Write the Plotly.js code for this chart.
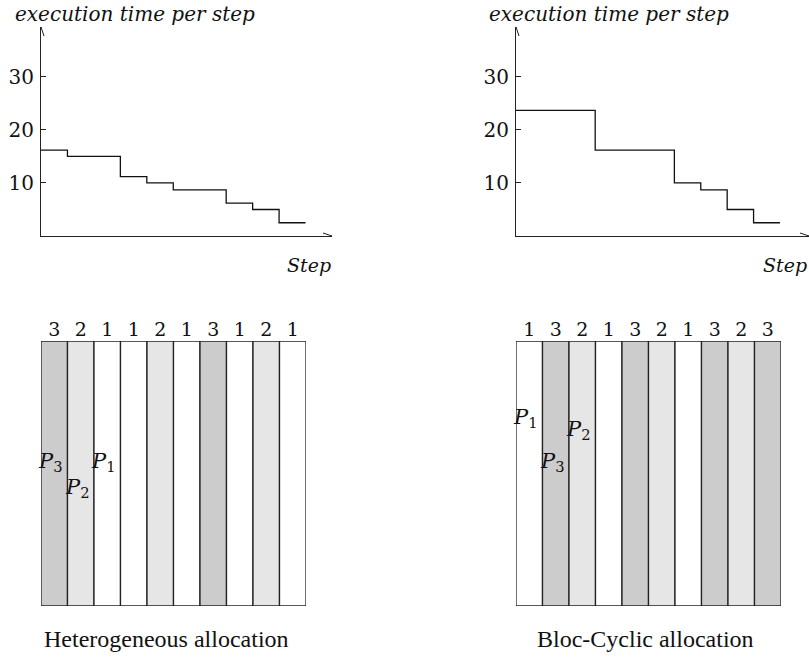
<!DOCTYPE html>
<html><head><meta charset="utf-8">
<script src="https://cdn.plot.ly/plotly-3.0.1.min.js"></script>
<style>body{margin:0;background:#fff}#plot{width:809px;height:657px}</style>
</head><body><div id="plot"></div>
<script>
// ---- data ----
const stepsLeft = [16.2, 15.0, 15.0, 11.2, 10.0, 8.7, 8.7, 6.2, 5.0, 2.5];
const stepsRight = [23.7, 23.7, 23.7, 16.2, 16.2, 16.2, 10.0, 8.7, 5.0, 2.5];
const yTicks = [10, 20, 30];
const allocLeft = [3, 2, 1, 1, 2, 1, 3, 1, 2, 1];
const allocRight = [1, 3, 2, 1, 3, 2, 1, 3, 2, 3];
const procLabelsLeft = [{p: 3, col: 0, h: 0.543}, {p: 2, col: 1, h: 0.445}, {p: 1, col: 2, h: 0.543}];
const procLabelsRight = [{p: 1, col: 0, h: 0.71}, {p: 3, col: 1, h: 0.543}, {p: 2, col: 2, h: 0.664}];
const captions = ["Heterogeneous allocation", "Bloc-Cyclic allocation"];
const yTitle = "execution time per step";
const xTitle = "Step";

// ---- helpers ----
const W = 809, H = 657;
const px = v => v / W, py = v => 1 - v / H;
const DJ = "'DejaVu Serif', serif";
const LIB = "'Liberation Serif', serif";
const procColor = {1: "#ffffff", 2: "#e6e6e6", 3: "#cccccc"};

function stepTrace(vals, xa, ya) {
  const x = vals.map((_, i) => i).concat([vals.length]);
  const y = vals.concat([vals[vals.length - 1]]);
  return {x, y, xaxis: xa, yaxis: ya, mode: "lines", line: {shape: "hv", color: "#111", width: 1.3}, hoverinfo: "skip"};
}
function barTrace(alloc, xa, ya) {
  return {x: alloc.map((_, i) => i), y: alloc.map(() => 1), type: "bar", width: 1, xaxis: xa, yaxis: ya,
    marker: {color: alloc.map(a => procColor[a]), line: {color: "#222", width: 1.3}}, hoverinfo: "skip"};
}

const data = [
  stepTrace(stepsLeft, "x", "y"),
  stepTrace(stepsRight, "x2", "y2"),
  barTrace(allocLeft, "x3", "y3"),
  barTrace(allocRight, "x4", "y4")
];

const topY = [py(236), py(27)];
function topX(d, r) {
  return {domain: d, range: r, showline: true, linecolor: "#222", linewidth: 1, showgrid: false, zeroline: false,
    showticklabels: false, ticks: "", fixedrange: true};
}
function topYax(d, anchor) {
  return {domain: d, anchor: anchor, range: [0, 39.4], showline: true, linecolor: "#222", linewidth: 1, showgrid: false,
    zeroline: false, tickvals: yTicks, ticks: "inside", ticklen: 5, tickcolor: "#222", ticklabelstandoff: 2,
    tickfont: {family: DJ, size: 20, color: "#111"}};
}
function botX(d, alloc, anchor) {
  return {domain: d, anchor: anchor, range: [-0.5, alloc.length - 0.5], side: "top", tickvals: alloc.map((_, i) => i),
    ticktext: alloc.map(String), ticks: "", showline: false, showgrid: false, zeroline: false,
    tickfont: {family: DJ, size: 19, color: "#111"}};
}
function botY(d, anchor) {
  return {domain: d, anchor: anchor, range: [0, 1], showticklabels: false, showline: false, showgrid: false, zeroline: false, ticks: ""};
}

const botYd = [py(606), py(341)];
const layout = {
  width: W, height: H, margin: {l: 0, r: 0, t: 0, b: 0}, showlegend: false,
  paper_bgcolor: "#fff", plot_bgcolor: "rgba(0,0,0,0)",
  bargap: 0,
  xaxis: Object.assign(topX([px(41), px(332)], [0, 11]), {anchor: "y"}),
  yaxis: topYax(topY, "x"),
  xaxis2: Object.assign(topX([px(516), 1], [0, 11.1]), {anchor: "y2"}),
  yaxis2: topYax(topY, "x2"),
  xaxis3: botX([px(41), px(306)], allocLeft, "y3"),
  yaxis3: botY(botYd, "x3"),
  xaxis4: botX([px(516), px(781)], allocRight, "y4"),
  yaxis4: botY(botYd, "x4"),
  annotations: [],
  shapes: []
};

// arrow heads
[["x", "y", 11], ["x2", "y2", 11.1]].forEach(([xa, ya, xmax]) => {
  layout.shapes.push({type: "path", xref: xa, yref: ya, xsizemode: "pixel", ysizemode: "pixel",
    xanchor: xmax, yanchor: 0, path: "M-9,-3 L0,0 L-9,3", line: {color: "#222", width: 1}});
  layout.shapes.push({type: "path", xref: xa, yref: ya, xsizemode: "pixel", ysizemode: "pixel",
    xanchor: 0, yanchor: 39.4, path: "M-3,-9 L0,0 L3,-9", line: {color: "#222", width: 1}});
});

// axis titles
[px(13), px(487)].forEach(xl => {
  layout.annotations.push({xref: "paper", yref: "paper", x: xl, y: py(14), xanchor: "left", yanchor: "middle",
    text: "<i>" + yTitle + "</i>", showarrow: false, font: {family: DJ, size: 20, color: "#111"}});
});
[px(333), 1].forEach(xr => {
  layout.annotations.push({xref: "paper", yref: "paper", x: xr, y: py(265), xanchor: "right", yanchor: "middle",
    text: "<i>" + xTitle + "</i>", showarrow: false, font: {family: DJ, size: 19, color: "#111"}});
});

// processor labels
[[procLabelsLeft, "x3", "y3"], [procLabelsRight, "x4", "y4"]].forEach(([arr, xa, ya]) => {
  arr.forEach(o => {
    layout.annotations.push({xref: xa, yref: ya, x: o.col - 0.5, y: o.h, xanchor: "left", yanchor: "middle",
      text: "<i>P</i><sub>" + o.p + "</sub>", showarrow: false, borderpad: 0, xshift: -4,
      font: {family: DJ, size: 21, color: "#111"}});
  });
});

// captions
[[px(166), captions[0]], [px(645), captions[1]]].forEach(([x, t]) => {
  layout.annotations.push({xref: "paper", yref: "paper", x: x, y: py(639), xanchor: "center", yanchor: "middle",
    text: t, showarrow: false, font: {family: LIB, size: 24, color: "#111"}});
});

Plotly.newPlot("plot", data, layout, {staticPlot: true, displayModeBar: false});
</script>
</body></html>
